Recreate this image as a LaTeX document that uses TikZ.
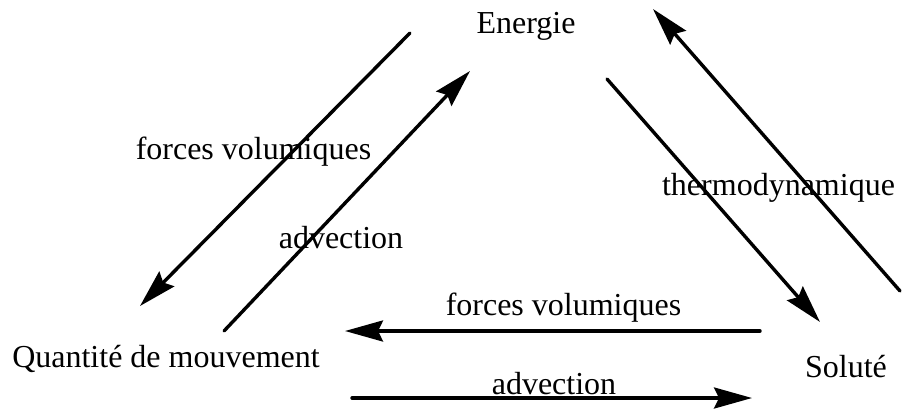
\documentclass[tikz,border=0pt]{standalone}
\usepackage{fontspec}
\setmainfont{Liberation Serif}
\usetikzlibrary{arrows.meta}

\begin{document}
\begin{tikzpicture}[x=0.5pt,y=-0.5pt,
  fleche/.style={-{Stealth[length=19pt,width=10.5pt,inset=2.5pt]}, line width=1.7pt, line cap=round},
  texte/.style={anchor=base, inner sep=0pt, font=\fontsize{16}{19}\selectfont}]
\useasboundingbox (0,0) rectangle (904,412);

% les trois grandeurs
\node[texte] (ener) at (526,33) {Energie};
\node[texte] (qdm) at (166,367) {Quantit\'e de mouvement};
\node[texte] (sol) at (846,377) {Solut\'e};

% etiquettes
\node[texte] (fvg) at (253.5,159) {forces volumiques};
\node[texte] (advg) at (341,248) {advection};
\node[texte] (thermo) at (778.5,195) {thermodynamique};
\node[texte] (fvb) at (563.5,315) {forces volumiques};
\node[texte] (advb) at (554,394) {advection};

% extremites des fleches
\coordinate (a1) at (410,33);  \coordinate (b1) at (140,306);
\coordinate (a2) at (224,331); \coordinate (b2) at (470,71);
\coordinate (a3) at (607,79);  \coordinate (b3) at (820,322);
\coordinate (a4) at (900,291); \coordinate (b4) at (653,9);
\coordinate (a5) at (760,331); \coordinate (b5) at (345,331);
\coordinate (a6) at (352,398); \coordinate (b6) at (752,398);

% Energie <-> Quantite de mouvement
\draw[fleche] (a1) -- (b1);
\draw[fleche] (a2) -- (b2);

% Energie <-> Solute
\draw[fleche] (a3) -- (b3);
\draw[fleche] (a4) -- (b4);

% Solute <-> Quantite de mouvement
\draw[fleche] (a5) -- (b5);
\draw[fleche] (a6) -- (b6);
\end{tikzpicture}
\end{document}
